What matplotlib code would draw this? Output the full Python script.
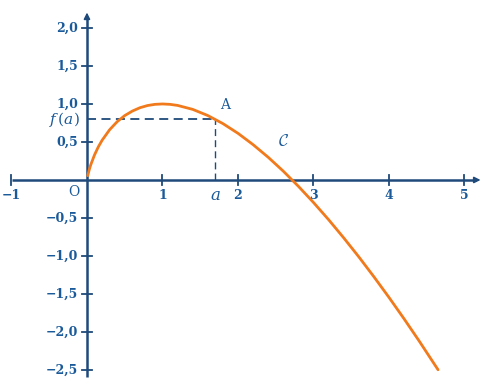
import matplotlib
matplotlib.use("Agg")
import matplotlib.pyplot as plt

# curve values
curve_x = [0.01, 0.03, 0.05, 0.1, 0.15, 0.2, 0.3, 0.4, 0.5, 0.6, 0.7, 0.8, 0.9, 1.0,
           1.1, 1.2, 1.4, 1.6, 1.8, 2.0, 2.2, 2.4, 2.6, 2.8, 3.0, 3.2, 3.4, 3.6,
           3.8, 4.0, 4.2, 4.4, 4.65]
curve_y = [0.056, 0.135, 0.200, 0.330, 0.435, 0.522, 0.661, 0.767, 0.847, 0.906,
           0.950, 0.979, 0.995, 1.000, 0.995, 0.981, 0.929, 0.848, 0.742, 0.614,
           0.465, 0.299, 0.116, -0.083, -0.296, -0.522, -0.761, -1.011, -1.273,
           -1.545, -1.827, -2.119, -2.497]
a_val = 1.70
fa_val = 0.80
x_ticks = [-1, 1, 2, 3, 4, 5]
x_labels = ["−1", "1", "2", "3", "4", "5"]
y_ticks = [2.0, 1.5, 1.0, 0.5, -0.5, -1.0, -1.5, -2.0, -2.5]
y_labels = ["2,0", "1,5", "1,0", "0,5", "−0,5", "−1,0", "−1,5", "−2,0", "−2,5"]

axis_col = "#1f4a7a"
text_col = "#1b5a9a"
curve_col = "#f07a1c"

fig = plt.figure(figsize=(4.98, 3.87), dpi=100)
ax = fig.add_axes([0, 0, 1, 1])
ax.set_xlim(-1.152, 5.444)
ax.set_ylim(-2.724, 2.368)
ax.axis("off")

# axes with arrows
ax.plot([-0.993, 5.15], [0, 0], color=axis_col, lw=1.8, solid_capstyle="butt")
ax.annotate("", xy=(5.25, 0), xytext=(5.1, 0),
            arrowprops=dict(arrowstyle="-|>", color=axis_col, lw=1.2, mutation_scale=9))
ax.plot([0, 0], [-2.59, 2.15], color=axis_col, lw=1.8, solid_capstyle="butt")
ax.annotate("", xy=(0, 2.24), xytext=(0, 2.1),
            arrowprops=dict(arrowstyle="-|>", color=axis_col, lw=1.2, mutation_scale=9))

serif = ["DejaVu Serif"]
tx = 0.06
ty = 0.06
for xv, lab in zip(x_ticks, x_labels):
    ax.plot([xv, xv], [-ty, ty], color=axis_col, lw=1.3)
    ax.text(xv, -0.12, lab, ha="center", va="top", color=text_col,
            fontsize=9, family=serif, fontweight="bold")
for yv, lab in zip(y_ticks, y_labels):
    ax.plot([-tx, tx], [yv, yv], color=axis_col, lw=1.3)
    ax.text(-0.12, yv, lab, ha="right", va="center", color=text_col,
            fontsize=9, family=serif, fontweight="bold")

ax.text(-0.1, -0.07, "O", ha="right", va="top", color=text_col, fontsize=10,
        family=serif)

# dashed guides
ax.plot([0, a_val], [fa_val, fa_val], color=axis_col, lw=1.3, ls=(0, (5, 3)))
ax.plot([a_val, a_val], [0, fa_val], color=axis_col, lw=1.0, ls=(0, (5, 3)))

# curve
ax.plot(curve_x, curve_y, color=curve_col, lw=2.0, solid_capstyle="round")

ax.text(-0.1, fa_val, r"$f\,(a)$", ha="right", va="center", color=text_col,
        fontsize=11, math_fontfamily="dejavuserif")
ax.text(a_val, -0.08, r"$a$", ha="center", va="top", color=text_col,
        fontsize=12, math_fontfamily="dejavuserif")
ax.text(1.76, 0.9, "A", ha="left", va="bottom", color=text_col, fontsize=10,
        family=serif)
ax.text(2.6, 0.51, r"$\mathcal{C}$", ha="center", va="center", color=text_col,
        fontsize=12, math_fontfamily="cm")

fig.savefig("out.png", dpi=100)
